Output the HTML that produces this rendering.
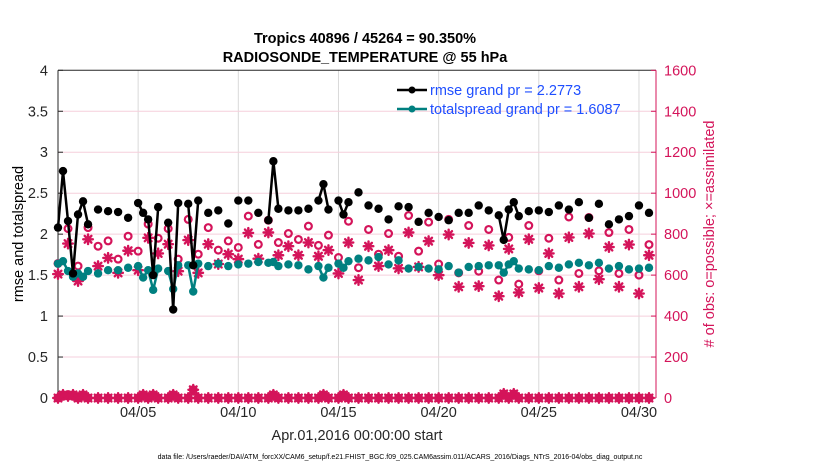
<!DOCTYPE html>
<html><head><meta charset="utf-8">
<style>
html,body{margin:0;padding:0;background:#fff;}
svg{display:block;font-family:"Liberation Sans",sans-serif;}
</style></head>
<body>
<svg id="chart" width="830" height="470" viewBox="0 0 830 470">
<rect x="0" y="0" width="830" height="470" fill="#fff"/>
<g id="grid"></g>
<g id="axes"></g>
<g id="series"></g>
<text x="365" y="43" text-anchor="middle" font-size="14.5" font-weight="bold">Tropics 40896 / 45264 = 90.350%</text>
<text x="365" y="62" text-anchor="middle" font-size="14.5" font-weight="bold">RADIOSONDE_TEMPERATURE @ 55 hPa</text>
<text transform="translate(23,234) rotate(-90)" text-anchor="middle" font-size="14.5">rmse and totalspread</text>
<text transform="translate(714,234) rotate(-90)" text-anchor="middle" font-size="14.5" fill="#d4145a"># of obs: o=possible; ×=assimilated</text>
<text x="357" y="440" text-anchor="middle" font-size="14.5" fill="#262626">Apr.01,2016 00:00:00 start</text>
<text x="400" y="459" text-anchor="middle" font-size="7" fill="#000">data file: /Users/raeder/DAI/ATM_forcXX/CAM6_setup/f.e21.FHIST_BGC.f09_025.CAM6assim.011/ACARS_2016/Diags_NTrS_2016-04/obs_diag_output.nc</text>
<g>
  <g>
    <line x1="397" y1="90" x2="427" y2="90" stroke="#000" stroke-width="2.5"/>
    <circle cx="412" cy="90" r="3.5" fill="#000"/>
    <text x="430" y="95" font-size="14.5" fill="#1f4fff">rmse grand pr = 2.2773</text>
  </g>
  <g>
    <line x1="397" y1="109" x2="427" y2="109" stroke="#008080" stroke-width="2.5"/>
    <circle cx="412" cy="109" r="3.5" fill="#008080"/>
    <text x="430" y="114" font-size="14.5" fill="#1f4fff">totalspread grand pr = 1.6087</text>
  </g>
</g>
</svg>
<script>
// ---- data ----
const lineTimes = [0,0.25,0.5,0.75,1,1.25,1.5,2,2.5,3,3.5,4,4.25,4.5,4.75,5,5.5,5.75,6,6.5,6.75,7,7.5,8,8.5,9,9.5,10,10.5,10.75,11,11.5,12,12.5,13,13.25,13.5,14,14.25,14.5,15,15.5,16,16.5,17,17.5,18,18.5,19,19.5,20,20.5,21,21.5,22,22.25,22.5,22.75,23,23.5,24,24.5,25,25.5,26,26.5,27,27.5,28,28.5,29,29.5];
const rmseValues = [2.08,2.77,2.16,1.52,2.24,2.40,2.12,2.30,2.28,2.27,2.20,2.38,2.26,2.18,1.50,2.33,2.14,1.08,2.38,2.37,1.62,2.41,2.26,2.29,2.13,2.41,2.41,2.26,2.17,2.89,2.31,2.29,2.29,2.31,2.41,2.61,2.30,2.41,2.24,2.39,2.51,2.35,2.31,2.18,2.34,2.33,2.15,2.26,2.21,2.17,2.26,2.26,2.35,2.29,2.23,1.93,2.30,2.39,2.22,2.28,2.29,2.27,2.35,2.30,2.39,2.20,2.37,2.12,2.18,2.22,2.35,2.26];
const spreadValues = [1.64,1.67,1.55,1.48,1.52,1.48,1.55,1.52,1.56,1.56,1.59,1.61,1.47,1.56,1.32,1.58,1.55,1.33,1.62,1.62,1.30,1.64,1.61,1.64,1.61,1.63,1.64,1.66,1.65,1.66,1.61,1.63,1.62,1.57,1.61,1.47,1.59,1.64,1.59,1.67,1.70,1.68,1.72,1.63,1.68,1.58,1.60,1.58,1.57,1.61,1.53,1.60,1.61,1.62,1.62,1.53,1.63,1.67,1.58,1.57,1.56,1.61,1.59,1.63,1.65,1.62,1.65,1.58,1.61,1.57,1.58,1.59];
const bottomValues = [0,15,10,15,0,15,0,0,0,0,0,0,15,0,15,0,0,15,0,0,40,0,0,0,0,0,0,0,0,15,0,0,0,0,0,15,0,0,15,0,0,0,0,0,0,0,0,0,0,0,0,0,0,0,0,20,0,20,0,0,0,0,0,0,0,0,0,0,0,0,0,0];
const countTimes = [0,0.5,1,1.5,2,2.5,3,3.5,4,4.5,5,5.5,6,6.5,7,7.5,8,8.5,9,9.5,10,10.5,11,11.5,12,12.5,13,13.5,14,14.5,15,15.5,16,16.5,17,17.5,18,18.5,19,19.5,20,20.5,21,21.5,22,22.5,23,23.5,24,24.5,25,25.5,26,26.5,27,27.5,28,28.5,29,29.5];
const possibleCounts = [657,827,644,832,741,767,678,790,717,849,780,827,678,872,702,832,722,767,735,888,750,868,759,803,774,839,745,795,686,863,636,823,702,803,692,891,717,859,654,872,611,842,619,823,576,784,556,842,621,780,576,884,608,881,621,808,608,823,600,749];
const assimCounts = [605,754,571,775,644,684,611,719,624,782,706,751,619,771,611,751,654,702,678,806,680,808,697,741,697,759,692,722,608,759,576,741,644,722,633,808,640,766,600,798,543,757,546,745,497,728,515,775,537,706,510,784,543,803,580,737,543,749,510,697];
const xTickDays = [4,9,14,19,24,29];
const xTickLabels = ["04/05","04/10","04/15","04/20","04/25","04/30"];
const yTicks = [0,0.5,1,1.5,2,2.5,3,3.5,4];
const yTickLabels = ["0","0.5","1","1.5","2","2.5","3","3.5","4"];
const y2Ticks = [0,200,400,600,800,1000,1200,1400,1600];
const y2TickLabels = ["0","200","400","600","800","1000","1200","1400","1600"];

// ---- scales ----
const L=58, R=656, T=70.3, B=398;
const X_MAX = 29.85;
const xs = d => L + d/X_MAX*(R-L);
const ys = v => B - v/4*(B-T);
const y2s = n => B - n/1600*(B-T);
const NS="http://www.w3.org/2000/svg";
function mk(tag, attrs, parent){const e=document.createElementNS(NS,tag);for(const k in attrs)e.setAttribute(k,attrs[k]);parent.appendChild(e);return e;}
const grid=document.getElementById('grid'), axes=document.getElementById('axes'), series=document.getElementById('series');
const PINK="#d4145a";

xTickDays.forEach((d,i)=>{
  const g=mk('line',{x1:xs(d),x2:xs(d),y1:T,y2:B,stroke:"#d9d9d9","stroke-width":1},grid);
  
  
});
y2Ticks.forEach(n=>{
  if(n===0||n===1600) return;
  const g=mk('line',{x1:L,x2:R,y1:y2s(n),y2:y2s(n),stroke:"#f5cfdc","stroke-width":1},grid);
  
  
});
let a=mk('line',{x1:L,x2:L,y1:T,y2:B,stroke:"#262626","stroke-width":1},axes);


a=mk('line',{x1:L,x2:R,y1:B,y2:B,stroke:"#262626","stroke-width":1},axes);


a=mk('line',{x1:L,x2:R,y1:T,y2:T,stroke:"#262626","stroke-width":1},axes);


a=mk('line',{x1:R,x2:R,y1:T,y2:B,stroke:PINK,"stroke-width":1},axes);


xTickDays.forEach((d,i)=>{
  mk('line',{x1:xs(d),x2:xs(d),y1:B,y2:B-5,stroke:"#262626"},axes);
  const t=mk('text',{x:xs(d),y:B+19,"text-anchor":"middle","font-size":"14.5",fill:"#262626"},axes);
  t.textContent=xTickLabels[i];
  
  
});
yTicks.forEach((v,i)=>{
  mk('line',{x1:L,x2:L+5,y1:ys(v),y2:ys(v),stroke:"#262626"},axes);
  const t=mk('text',{x:L-10,y:ys(v)+5,"text-anchor":"end","font-size":"14.5",fill:"#262626"},axes);
  t.textContent=yTickLabels[i];
  
  
});
y2Ticks.forEach((n,i)=>{
  mk('line',{x1:R,x2:R-5,y1:y2s(n),y2:y2s(n),stroke:PINK},axes);
  const t=mk('text',{x:R+8,y:y2s(n)+5,"text-anchor":"start","font-size":"14.5",fill:PINK},axes);
  t.textContent=y2TickLabels[i];
  
  
});

function star(cx,cy,parent,name){
  const g=mk('g',{stroke:PINK,"stroke-width":2.4,"stroke-linecap":"round"},parent);
  
  
  const r=4.8;
  [[r,0],[0,r],[r*0.7,r*0.7],[r*0.7,-r*0.7]].forEach(([dx,dy])=>{
    mk('line',{x1:cx-dx,y1:cy-dy,x2:cx+dx,y2:cy+dy},g);
  });
}
function ring(cx,cy,parent,name){
  const c=mk('circle',{cx:cx,cy:cy,r:3.4,fill:"none",stroke:PINK,"stroke-width":2.2},parent);
  
  
}

const gPos=mk('g',{},series);


const gAs=mk('g',{},series);


countTimes.forEach((d,i)=>{ ring(xs(d),y2s(possibleCounts[i]),gPos,'possible-obs-marker'); });
countTimes.forEach((d,i)=>{ star(xs(d),y2s(assimCounts[i]),gAs,'assimilated-obs-marker'); });
const gBot=mk('g',{},series);


lineTimes.forEach((d,i)=>{ ring(xs(d),y2s(bottomValues[i]),gBot,'bottom-possible-marker'); star(xs(d),y2s(bottomValues[i]),gBot,'bottom-assimilated-marker'); });

function lineSeries(vals,color,name){
  const g=mk('g',{},series);
  
  
  let seg=[];
  const flush=()=>{ if(seg.length>1){ mk('polyline',{points:seg.join(' '),fill:"none",stroke:color,"stroke-width":2.5,"stroke-linejoin":"round"},g);} seg=[]; };
  lineTimes.forEach((d,i)=>{
    if(i>0 && d-lineTimes[i-1]>0.3) flush();
    seg.push(xs(d).toFixed(1)+','+ys(vals[i]).toFixed(1));
  });
  flush();
  lineTimes.forEach((d,i)=>{
    const c=mk('circle',{cx:xs(d),cy:ys(vals[i]),r:4.2,fill:color},g);
    
    
  });
}
lineSeries(spreadValues,"#008080",'totalspread-series');
lineSeries(rmseValues,"#000",'rmse-series');
</script>
</body></html>
